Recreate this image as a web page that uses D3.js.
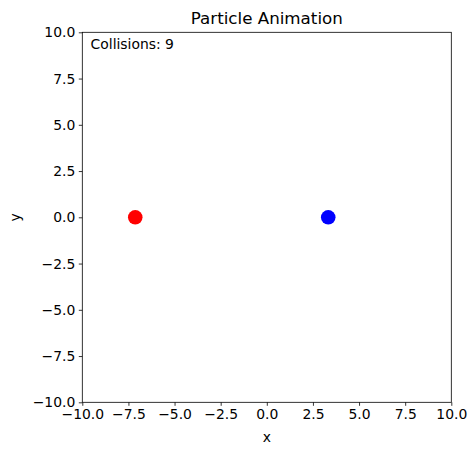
<!DOCTYPE html>
<html>
<head>
<meta charset="utf-8">
<script src="https://cdn.jsdelivr.net/npm/d3@7"></script>
<style>
  body { margin: 0; background: #fff; }
  text { font-family: "DejaVu Sans", sans-serif; }
</style>
</head>
<body>
<div id="chart"></div>
<script>
const width = 476, height = 455;
const margin = {top: 32.3, right: 24.7, bottom: 52.7, left: 82.3};

const title = "Particle Animation";
const collisions = 9;
const particleX = [-7.13, 3.33];
const particleY = [0, 0];
const particleColor = ["#ff0000", "#0000ff"];
const ticks = [-10, -7.5, -5, -2.5, 0, 2.5, 5, 7.5, 10];

const svg = d3.select("#chart").append("svg")
  .attr("width", width)
  .attr("height", height);

const x = d3.scaleLinear().domain([-10, 10]).range([margin.left, width - margin.right]);
const y = d3.scaleLinear().domain([-10, 10]).range([height - margin.bottom, margin.top]);

const fmt = d3.format(".1f");
const minus = d => fmt(d).replace("-", "\u2212");

const xAxis = svg.append("g")
  .attr("transform", `translate(0,${height - margin.bottom})`)
  .call(d3.axisBottom(x).tickValues(ticks).tickFormat(minus).tickSize(3.5).tickPadding(3.5).tickSizeOuter(0));
const yAxis = svg.append("g")
  .attr("transform", `translate(${margin.left},0)`)
  .call(d3.axisLeft(y).tickValues(ticks).tickFormat(minus).tickSize(3.5).tickPadding(3.5).tickSizeOuter(0));

[xAxis, yAxis].forEach(g => {
  g.select(".domain").remove();
  g.selectAll("text").attr("font-size", 13.9).attr("font-family", "DejaVu Sans").attr("fill", "#000");
  g.selectAll("line").attr("stroke", "#000").attr("stroke-width", 0.8);
});

// frame
svg.append("rect")
  .attr("x", margin.left).attr("y", margin.top)
  .attr("width", width - margin.left - margin.right)
  .attr("height", height - margin.top - margin.bottom)
  .attr("fill", "none").attr("stroke", "#000").attr("stroke-width", 0.8);

svg.selectAll("circle.p")
  .data(particleX)
  .join("circle")
  .attr("class", "p")
  .attr("cx", d => x(d))
  .attr("cy", (d, i) => y(particleY[i]))
  .attr("r", 7.3)
  .attr("fill", (d, i) => particleColor[i]);

svg.append("text")
  .attr("x", (margin.left + width - margin.right) / 2)
  .attr("y", margin.top - 8)
  .attr("text-anchor", "middle")
  .attr("font-size", 16.7)
  .text(title);

svg.append("text")
  .attr("x", x(-9.55))
  .attr("y", y(9.08))
  .attr("font-size", 13.9)
  .text("Collisions: " + collisions);

svg.append("text")
  .attr("x", (margin.left + width - margin.right) / 2)
  .attr("y", 442)
  .attr("text-anchor", "middle")
  .attr("font-size", 13.9)
  .text("x");

svg.append("text")
  .attr("transform", `translate(20,${(margin.top + height - margin.bottom) / 2}) rotate(-90)`)
  .attr("text-anchor", "middle")
  .attr("font-size", 13.9)
  .text("y");
</script>
</body>
</html>
